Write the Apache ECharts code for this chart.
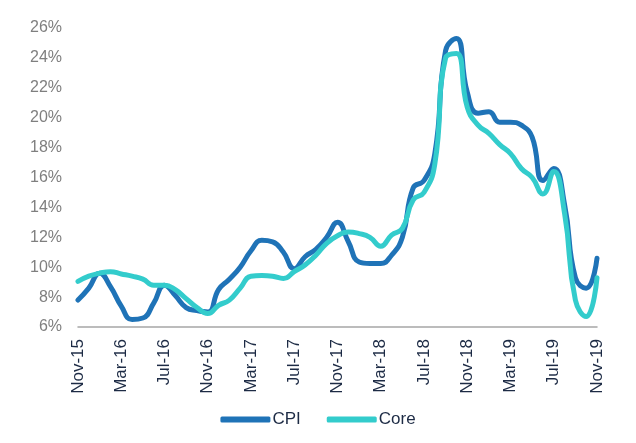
<!DOCTYPE html>
<html>
<head>
<meta charset="utf-8">
<script src="https://cdn.jsdelivr.net/npm/echarts@6/dist/echarts.min.js"></script>
<style>
    html, body { margin: 0; padding: 0; background: #fff; }
    #inflation_chart { width: 636px; height: 443px; }
</style>
</head>
<body>
<div id="inflation_chart"></div>
<script>
const months = [
    "Nov-15", "Dec-15", "Jan-16", "Feb-16", "Mar-16", "Apr-16", "May-16", "Jun-16", "Jul-16", "Aug-16", "Sep-16", "Oct-16",
    "Nov-16", "Dec-16", "Jan-17", "Feb-17", "Mar-17", "Apr-17", "May-17", "Jun-17", "Jul-17", "Aug-17", "Sep-17", "Oct-17",
    "Nov-17", "Dec-17", "Jan-18", "Feb-18", "Mar-18", "Apr-18", "May-18", "Jun-18", "Jul-18", "Aug-18", "Sep-18", "Oct-18",
    "Nov-18", "Dec-18", "Jan-19", "Feb-19", "Mar-19", "Apr-19", "May-19", "Jun-19", "Jul-19", "Aug-19", "Sep-19", "Oct-19",
    "Nov-19"
];

const cpi = [
    7.8, 8.6, 9.6, 8.7, 7.4, 6.5, 6.6, 7.6, 8.8, 8.1, 7.3, 7.1,
    7.0, 8.5, 9.2, 10.0, 11.1, 11.8, 11.7, 11.0, 9.9, 10.7, 11.2, 12.0,
    13.0, 11.7, 10.35, 10.25, 10.25, 10.8, 12.0, 15.3, 15.8, 17.6, 24.5, 25.3,
    21.7, 20.3, 20.4, 19.7, 19.7, 19.5, 18.7, 15.8, 16.6, 14.2, 9.3, 8.6,
    10.6
];

const core = [
    9.05, 9.4, 9.6, 9.7, 9.55, 9.4, 9.2, 8.8, 8.8, 8.5, 7.9, 7.3,
    6.9, 7.45, 7.8, 8.6, 9.4, 9.45, 9.4, 9.25, 9.7, 10.15, 10.8, 11.6,
    12.1, 12.35, 12.25, 12.0, 11.4, 12.15, 12.6, 14.5, 15.0, 16.9, 24.0, 24.3,
    20.7, 19.5, 18.95, 18.2, 17.6, 16.6, 16.0, 14.9, 16.4, 13.6, 7.8, 6.7,
    9.3
];

const yTicks = { min: 6, max: 26, step: 2 };

const lineColors = { CPI: "#1f73b7", Core: "#33cccc" };

const makeSeries = (name, data) => ({
    name: name,
    type: "line",
    data: data,
    smooth: 0.5,
    showSymbol: false,
    symbol: "none",
    lineStyle: { width: 5, color: lineColors[name], cap: "round", join: "round" },
    itemStyle: { color: lineColors[name] }
});

const chart = echarts.init(document.getElementById("inflation_chart"));

chart.setOption({
    animation: false,
    textStyle: { fontFamily: "Liberation Sans, Arial, sans-serif" },
    grid: {
        left: 78,
        right: 39,
        top: 28,
        bottom: 116,
        containLabel: false
    },
    legend: {
        bottom: 10,
        left: "center",
        icon: "roundRect",
        itemWidth: 50,
        itemHeight: 6,
        itemGap: 26,
        textStyle: { color: "#1d2b45", fontSize: 17, padding: [0, 0, 0, -3] },
        data: ["CPI", "Core"]
    },
    xAxis: {
        type: "category",
        data: months,
        boundaryGap: false,
        axisLine: { lineStyle: { color: "#a6a6a6", width: 1.5 } },
        axisTick: { show: false },
        axisLabel: {
            interval: 3,
            rotate: 90,
            color: "#1d2b45",
            fontSize: 17,
            margin: 12
        }
    },
    yAxis: {
        type: "value",
        min: yTicks.min,
        max: yTicks.max,
        interval: yTicks.step,
        axisLine: { show: false },
        axisTick: { show: false },
        splitLine: { show: false },
        axisLabel: {
            formatter: "{value}%",
            color: "#7f7f7f",
            fontSize: 16,
            margin: 16
        }
    },
    series: [
        makeSeries("CPI", cpi),
        makeSeries("Core", core)
    ]
});
</script>
</body>
</html>
